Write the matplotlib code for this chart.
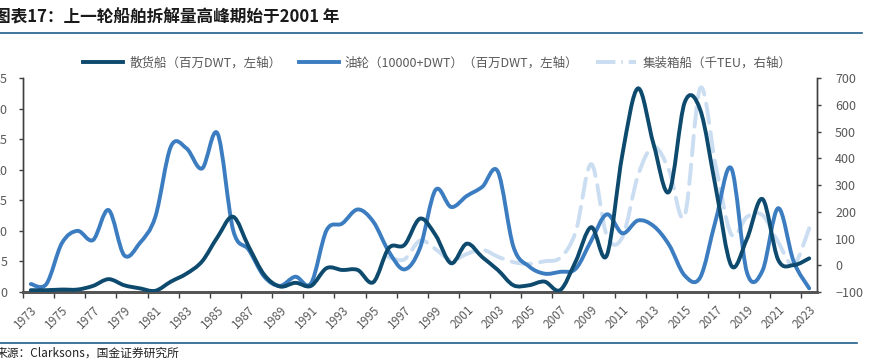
import matplotlib
matplotlib.use("Agg")
import matplotlib.pyplot as plt
from matplotlib.path import Path
from matplotlib.patches import PathPatch
from matplotlib.lines import Line2D
import numpy as np

plt.rcParams['font.family'] = ['Noto Sans CJK SC', 'DejaVu Sans']

years = list(range(1973, 2024))
bulk = [0.3, 0.3, 0.4, 0.4, 1.0, 2.1, 1.1, 0.6, 0.2, 1.7,
        3.0, 5.0, 9.0, 12.3, 7.4, 2.8, 0.9, 1.5, 1.0, 3.9,
        3.6, 3.6, 1.6, 7.2, 7.7, 12.0, 9.3, 4.7, 7.9, 5.7,
        3.6, 1.1, 1.1, 1.7, 0.3, 5.0, 10.6, 6.0, 22.5, 33.3,
        24.2, 16.4, 31.0, 29.8, 17.0, 4.3, 8.7, 15.2, 5.3, 4.4, 5.5]
tanker = [1.3, 1.3, 8.0, 10.0, 8.5, 13.4, 6.0, 8.0, 12.3, 23.8,
          23.5, 20.2, 25.9, 10.1, 6.9, 2.5, 1.0, 2.5, 1.4, 10.1,
          11.2, 13.5, 11.5, 6.6, 3.7, 7.2, 16.7, 13.9, 15.7, 17.2,
          19.7, 7.4, 4.2, 3.0, 3.3, 3.8, 8.4, 12.7, 9.6, 11.7,
          10.8, 7.7, 2.7, 2.4, 11.8, 20.2, 3.2, 3.5, 13.7, 5.0, 0.6]
container_years = list(range(1996, 2024))
container = [30, 22, 92, 60, 18, 42, 58, 32, 12, 5,
             15, 28, 125, 378, 110, 105, 335, 443, 355, 185,
             662, 370, 115, 181, 187, 87, 2, 138]

title = "图表17：上一轮船舶拆解量高峰期始于2001 年"
source = "来源：Clarksons，国金证券研究所"
labels = ["散货船（百万DWT，左轴）", "油轮（10000+DWT）（百万DWT，左轴）", "集装箱船（千TEU，右轴）"]

c_bulk = "#0D4A6E"
c_tank = "#3B7DC0"
c_cont = "#CADDF1"
gray = "#595959"


def smooth_path(xs, ys):
    x = np.asarray(xs, float)
    y = np.asarray(ys, float)
    n = len(x)
    verts = [(x[0], y[0])]
    codes = [Path.MOVETO]
    for i in range(n - 1):
        x0, y0 = (x[i - 1], y[i - 1]) if i > 0 else (x[i], y[i])
        x3, y3 = (x[i + 2], y[i + 2]) if i + 2 < n else (x[i + 1], y[i + 1])
        c1 = (x[i] + (x[i + 1] - x0) / 6, y[i] + (y[i + 1] - y0) / 6)
        c2 = (x[i + 1] - (x3 - x[i]) / 6, y[i + 1] - (y3 - y[i]) / 6)
        verts += [c1, c2, (x[i + 1], y[i + 1])]
        codes += [Path.CURVE4] * 3
    return Path(verts, codes)


W, H = 873, 362
fig = plt.figure(figsize=(W / 100, H / 100), dpi=100)
ax = fig.add_axes([23 / W, 1 - 292 / H, (817 - 23) / W, (292 - 78) / H])
ax2 = ax.twinx()

lw = 2.8
ax.add_patch(PathPatch(smooth_path(years, bulk), fill=False, ec=c_bulk, lw=lw,
                       capstyle='round', joinstyle='round', zorder=3))
ax.add_patch(PathPatch(smooth_path(years, tanker), fill=False, ec=c_tank, lw=lw,
                       capstyle='round', joinstyle='round', zorder=2))
ax2.add_patch(PathPatch(smooth_path(container_years, container), fill=False, ec=c_cont,
                        lw=lw, linestyle=(0, (5.0, 2.4)), capstyle='round', zorder=1))
ax.set_zorder(ax2.get_zorder() + 1)
ax.patch.set_visible(False)

ax.set_xlim(1972.5, 2023.5)
ax.set_ylim(0, 35)
ax2.set_ylim(-100, 700)
ax.set_yticks(range(0, 36, 5))
ax2.set_yticks(range(-100, 701, 100))
ax.set_xticks(years[::2])
ax.set_xticklabels([str(y) for y in years[::2]], rotation=45, ha='right',
                   rotation_mode='anchor', fontsize=8.5, color=gray)
ax.set_xticks(np.arange(1972.5, 2023.6, 2), minor=True)
ax.tick_params(axis='x', which='major', length=0, pad=8)
ax.tick_params(axis='x', which='minor', length=4, width=1, color='#404040', direction='out')
ax.tick_params(axis='y', length=3, width=1, color='#404040', labelsize=9, labelcolor=gray, pad=8)
ax2.tick_params(axis='y', length=3, width=1, color='#404040', labelsize=9, labelcolor=gray, pad=10)

for a in (ax, ax2):
    a.spines['top'].set_visible(False)
    a.spines['left'].set_color('#404040')
    a.spines['right'].set_color('#404040')
    a.spines['bottom'].set_color('#555555')
    a.spines['bottom'].set_linewidth(2)
    a.spines['left'].set_linewidth(1)
    a.spines['right'].set_linewidth(1)

handles = [Line2D([], [], color=c_bulk, lw=lw),
           Line2D([], [], color=c_tank, lw=lw),
           Line2D([], [], color=c_cont, lw=lw, linestyle=(0, (5.0, 1.5, 0.4, 1.5)))]
fig.legend(handles, labels, loc='center', bbox_to_anchor=(437 / W, 1 - 63 / H), ncol=3,
           frameon=False, fontsize=9, labelcolor=gray, handlelength=3.2,
           columnspacing=1.4, handletextpad=0.5)

fig.text(-6 / W, 1 - 18 / H, title, fontsize=12, fontweight='bold', color='#1a1a1a',
         va='center', ha='left', style='italic')
fig.add_artist(Line2D([0, 862 / W], [1 - 33 / H, 1 - 33 / H], color='#1F5C8B', lw=1.2))
fig.add_artist(Line2D([0, 857 / W], [1 - 343 / H, 1 - 343 / H], color='#1F5C8B', lw=1.2))
fig.text(-4 / W, 1 - 353 / H, source, fontsize=8.5, color='#222222', va='center', ha='left')

fig.savefig("out.png", dpi=100)
